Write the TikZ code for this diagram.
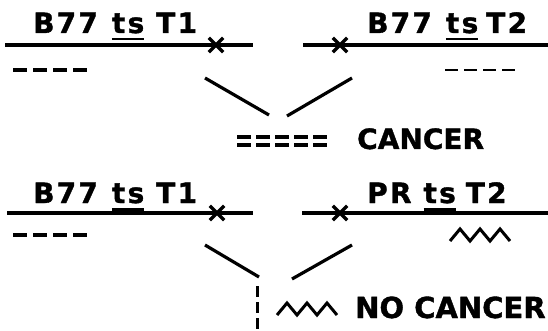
\documentclass[tikz,border=0pt]{standalone}
\usepackage{fontspec}
\setmainfont{DejaVu Sans}[BoldFeatures={FakeBold=1.3}]
\newfontfamily\spaced{DejaVu Sans}[BoldFeatures={FakeBold=1.3,LetterSpace=8}]
\usetikzlibrary{shapes.misc}
\newcommand\myul[1]{\setbox0\hbox{#1}\rlap{\rule[-7.5pt]{\wd0}{2.8pt}}\box0}
\begin{document}
\begin{tikzpicture}[x=1pt,y=-1pt,
  lab/.style={anchor=base west,inner sep=0pt,font=\fontsize{28}{30}\selectfont\bfseries},
  slab/.style={anchor=base west,inner sep=0pt,font=\fontsize{28}{30}\spaced\bfseries},
  chrom/.style={line width=3.2pt},
  diag/.style={line width=3.2pt},
  xmk/.style={cross out,draw,line width=3.4pt,minimum size=11pt,inner sep=0pt},
  dsh/.style={line width=3.2pt,dash pattern=on 14pt off 6pt},
  dshthin/.style={line width=2.6pt,dash pattern=on 13pt off 6pt},
  eqd/.style={line width=3.2pt,dash pattern=on 14pt off 5pt},
  zig/.style={line width=3pt,line join=miter}]
\useasboundingbox (0,0) rectangle (548,331);
% ---- top pair
\node[slab] (l1) at (33,33) {B77\hspace{14pt}\myul{ts}\hspace{12pt}T1};
\node[slab] (l2) at (367,33) {B77\hspace{14pt}\myul{ts}\hspace{8pt}T2};
\coordinate (a1) at (5,45); \coordinate (a2) at (253,45);
\coordinate (b1) at (303,45); \coordinate (b2) at (548,45);
\draw[chrom] (a1) -- (a2);
\draw[chrom] (b1) -- (b2);
\node[xmk] (x1) at (216,45) {};
\node[xmk] (x2) at (340,45) {};
\coordinate (d1a) at (13,70); \coordinate (d1b) at (88,70);
\draw[dsh] (d1a) -- (d1b);
\coordinate (d2a) at (445,70); \coordinate (d2b) at (516,70);
\draw[dshthin] (d2a) -- (d2b);
\coordinate (p1) at (205,78); \coordinate (p2) at (269,115);
\coordinate (q1) at (352,78); \coordinate (q2) at (287,116);
\draw[diag] (p1) -- (p2);
\draw[diag] (q1) -- (q2);
\coordinate (e1) at (237,137); \coordinate (e2) at (327,137);
\coordinate (e3) at (237,145); \coordinate (e4) at (327,145);
\draw[eqd] (e1) -- (e2);
\draw[eqd] (e3) -- (e4);
\node[lab] (c1) at (357,149) {CANCER};
% ---- bottom pair
\node[slab] (l3) at (33,203) {B77\hspace{14pt}\myul{ts}\hspace{12pt}T1};
\node[slab] (l4) at (367,203) {PR\hspace{12pt}\myul{ts}\hspace{10pt}T2};
\coordinate (f1) at (7,213); \coordinate (f2) at (253,213);
\coordinate (g1) at (302,213); \coordinate (g2) at (548,213);
\draw[chrom] (f1) -- (f2);
\draw[chrom] (g1) -- (g2);
\node[xmk] (x3) at (217,213) {};
\node[xmk] (x4) at (340,213) {};
\coordinate (d3a) at (13,235); \coordinate (d3b) at (90,235);
\draw[dsh] (d3a) -- (d3b);
\coordinate (z1) at (450,241);
\draw[zig] (z1) -- ++(10,-12) -- ++(10,12) -- ++(10,-12) -- ++(10,12) -- ++(10,-12) -- ++(10,12);
\coordinate (r1) at (205,245); \coordinate (r2) at (259,277);
\coordinate (s1) at (352,245); \coordinate (s2) at (292,279);
\draw[diag] (r1) -- (r2);
\draw[diag] (s1) -- (s2);
\coordinate (v1) at (257,286); \coordinate (v2) at (257,331);
\draw[line width=3pt,dash pattern=on 11pt off 5pt] (v1) -- (v2);
\coordinate (z2) at (277,315);
\draw[zig] (z2) -- ++(10,-12) -- ++(10,12) -- ++(10,-12) -- ++(10,12) -- ++(10,-12) -- ++(10,12);
\node[lab,font=\fontsize{29}{31}\selectfont\bfseries] (c2) at (355,318) {NO CANCER};
\end{tikzpicture}
\end{document}
